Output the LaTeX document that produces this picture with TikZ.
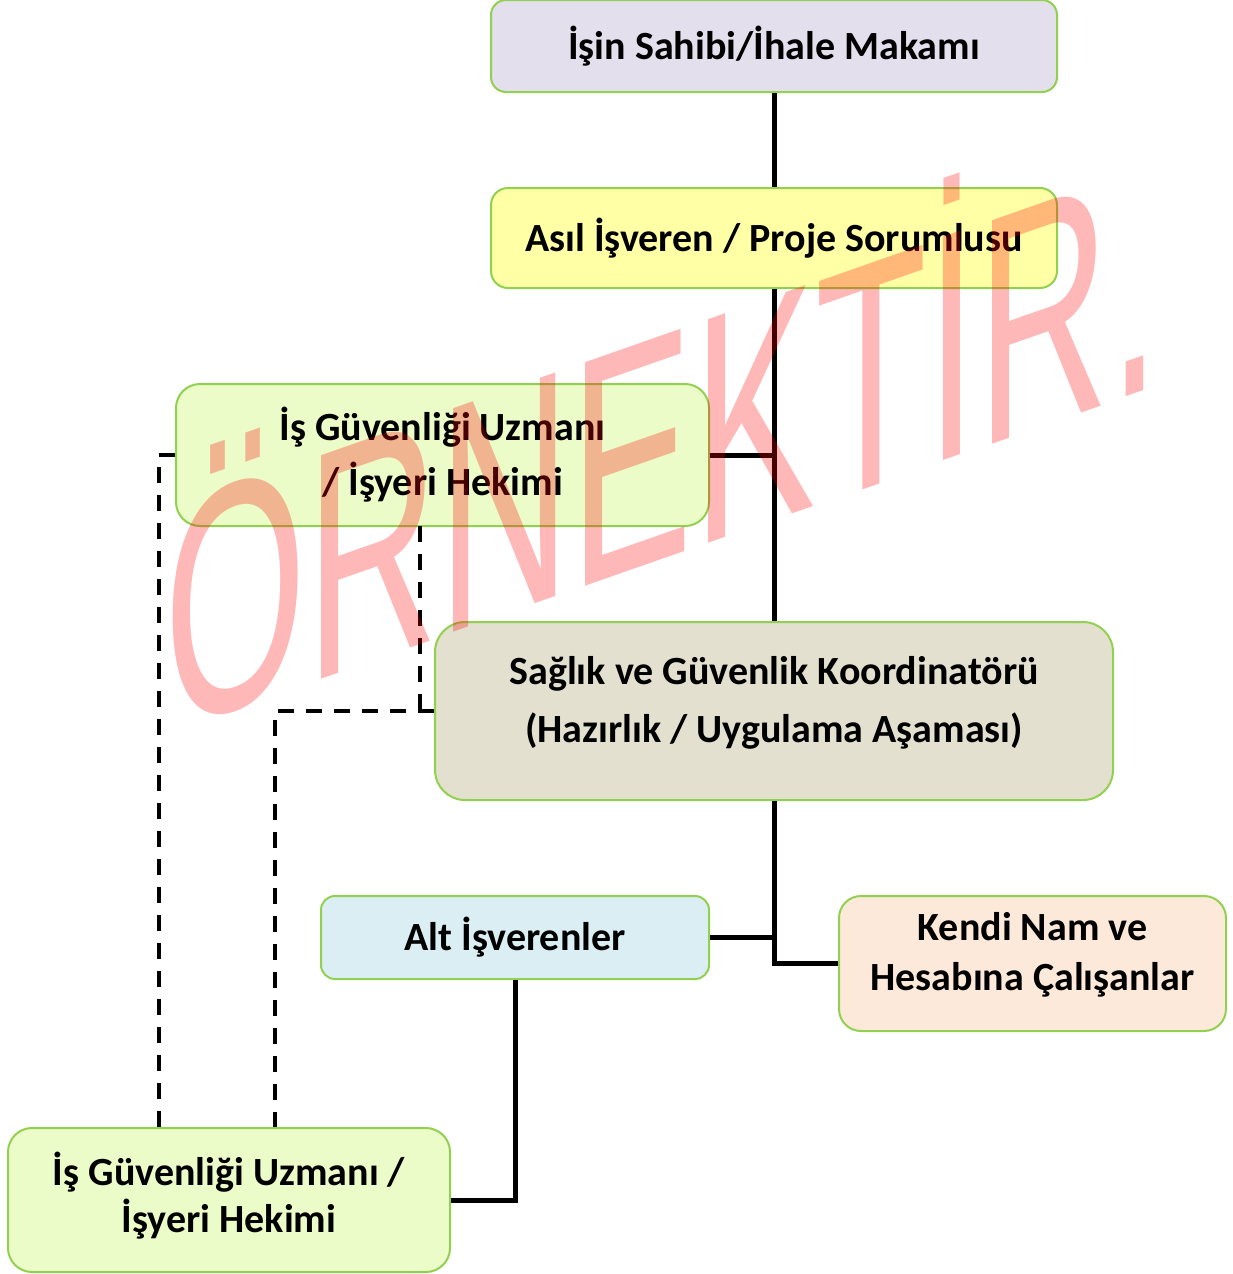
\documentclass[tikz,border=0pt]{standalone}
\usepackage{fontspec}
\setmainfont{Carlito}
\newfontfamily\wmfont{Liberation Sans}
\definecolor{bordergreen}{HTML}{92D050}
\definecolor{clav}{HTML}{E4DFEC}
\definecolor{cyel}{HTML}{FFFFA5}
\definecolor{cgrn}{HTML}{EBFCC8}
\definecolor{ctan}{HTML}{E3E0CF}
\definecolor{cblu}{HTML}{DAEEF3}
\definecolor{cpch}{HTML}{FDE9D9}
\tikzset{
  orgbox/.style={draw=bordergreen, line width=2pt, align=center, inner sep=0pt,
    font=\bfseries\fontsize{40}{56}\selectfont},
  solidlink/.style={line width=5pt, black},
  dashlink/.style={line width=4pt, black, dash pattern=on 16pt off 12pt},
}
\begin{document}
\begin{tikzpicture}[x=1pt,y=1pt]
\useasboundingbox (0,0) rectangle (1233,-1274);
% boxes
\node[orgbox, fill=clav, rounded corners=15pt, minimum width=566pt, minimum height=92pt] (top) at (774,-46) {İşin Sahibi/İhale Makamı};
\node[orgbox, fill=cyel, rounded corners=17pt, minimum width=566pt, minimum height=100pt] (asil) at (774,-238) {Asıl İşveren / Proje Sorumlusu};
\node[orgbox, fill=cgrn, rounded corners=24pt, minimum width=533pt, minimum height=142pt,
  text height=80pt, text depth=0pt] (isgu) at (442.5,-455) {İş Güvenliği Uzmanı\\[-1pt]/ İşyeri Hekimi};
\node[orgbox, fill=ctan, rounded corners=30pt, minimum width=678pt, minimum height=178pt,
  text height=62pt, text depth=0pt] (sgk) at (774,-711) {Sağlık ve Güvenlik Koordinatörü\\[2pt](Hazırlık / Uygulama Aşaması)};
\node[orgbox, fill=cblu, rounded corners=14pt, minimum width=388pt, minimum height=83pt] (alt) at (515,-937.5) {Alt İşverenler};
\node[orgbox, fill=cpch, rounded corners=22pt, minimum width=387pt, minimum height=135pt,
  text height=53pt, text depth=0pt] (kendi) at (1032.5,-963.5) {Kendi Nam ve\\[-6pt]Hesabına Çalışanlar};
\node[orgbox, fill=cgrn, rounded corners=24pt, minimum width=442pt, minimum height=144pt,
  text height=64pt, text depth=0pt] (isgb) at (229,-1200) {İş Güvenliği Uzmanı /\\[-9pt]İşyeri Hekimi};
% solid connectors
\coordinate (jA) at (774,-455);
\coordinate (jB) at (774,-937.5);
\coordinate (jC) at (774,-963.5);
\draw[solidlink] (top.south) -- (asil.north);
\draw[solidlink] (asil.south) -- (sgk.north);
\draw[solidlink] (isgu.east) -- (jA);
\draw[solidlink] (sgk.south) -- (jC) -- (kendi.west);
\draw[solidlink] (alt.east) -- (jB);
\draw[solidlink] (alt.south) |- (isgb.east);
% dashed connectors
\coordinate (dL) at (159,-455);
\coordinate (dR) at (275,-711);
\coordinate (dM) at (420,-526);
\draw[dashlink] (isgu.west) -- (dL) -- (dL |- isgb.north);
\draw[dashlink] (dM) |- (sgk.west);
\draw[dashlink] (sgk.west) -- (dR) -- (dR |- isgb.north);
% watermark
\begin{scope}[cm={1.83,0.6405,0,3.25,(164,-734)}]
\node[transform shape, anchor=base west, inner sep=0pt, text=red, text opacity=0.28,
  font=\wmfont\fontsize{100}{100}\selectfont] (wm) at (0,0) {ÖRNEKTİR.};
\end{scope}
\end{tikzpicture}
\end{document}
